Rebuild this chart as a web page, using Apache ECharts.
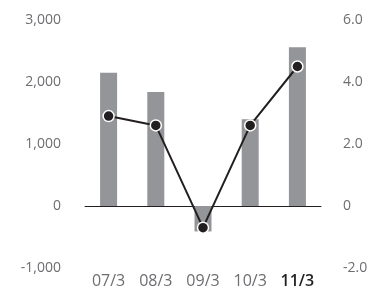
<!DOCTYPE html>
<html>
<head>
<meta charset="utf-8">
<script src="https://cdn.jsdelivr.net/npm/echarts@6/dist/echarts.min.js"></script>
<style>
  html, body { margin: 0; padding: 0; background: #fff; }
  #chart { width: 372px; height: 289px; }
</style>
</head>
<body>
<div id="chart"></div>
<script>
// data
var categories = ['07/3', '08/3', '09/3', '10/3', '11/3']
var barValues = [2150, 1840, -410, 1400, 2560]
var lineValues = [2.9, 2.6, -0.7, 2.6, 4.5]
var leftTicks = { min: -1000, max: 3000, interval: 1000 }
var rightTicks = { min: -2, max: 6, interval: 2 }

var labelColor = '#6d6e71'
var font = '"Open Sans", "Noto Sans", sans-serif'

var chart = echarts.init(document.getElementById('chart'))
chart.setOption({
  animation: false,
  grid: {
    left: 85,
    right: 51,
    top: 20,
    bottom: 19
  },
  xAxis: [
    {
      // labels at the bottom
      type: 'category',
      data: categories,
      position: 'bottom',
      axisLine: { show: false, onZero: false },
      axisTick: { show: false },
      axisLabel: {
        interval: 0,
        margin: 5,
        fontSize: 16,
        fontFamily: font,
        color: labelColor,
        formatter: function (v, i) {
          return i === categories.length - 1 ? '{b|' + v + '}' : v
        },
        rich: {
          b: { fontSize: 16, fontWeight: 600, color: '#231f20', fontFamily: font }
        }
      }
    },
    {
      // zero line
      type: 'category',
      data: categories,
      axisLine: { show: true, onZero: true, onZeroAxisIndex: 0, lineStyle: { color: '#231f20', width: 1 } },
      axisTick: { show: false },
      axisLabel: { show: false }
    }
  ],
  yAxis: [
    {
      type: 'value',
      min: leftTicks.min,
      max: leftTicks.max,
      interval: leftTicks.interval,
      axisLine: { show: false },
      axisTick: { show: false },
      splitLine: { show: false },
      axisLabel: {
        margin: 24,
        fontSize: 14,
        fontFamily: font,
        color: labelColor,
        formatter: function (v) { return v.toLocaleString('en-US') }
      }
    },
    {
      type: 'value',
      min: rightTicks.min,
      max: rightTicks.max,
      interval: rightTicks.interval,
      axisLine: { show: false },
      axisTick: { show: false },
      splitLine: { show: false },
      axisLabel: {
        margin: 22,
        fontSize: 14,
        fontFamily: font,
        color: labelColor,
        formatter: function (v) { return v === 0 ? '0' : v.toFixed(1) }
      }
    }
  ],
  series: [
    {
      type: 'bar',
      xAxisIndex: 0,
      yAxisIndex: 0,
      barWidth: 17,
      itemStyle: { color: '#939598' },
      data: barValues
    },
    {
      type: 'line',
      xAxisIndex: 0,
      yAxisIndex: 1,
      symbol: 'circle',
      symbolSize: 11,
      lineStyle: { color: '#231f20', width: 2 },
      itemStyle: { color: '#231f20', borderColor: '#fff', borderWidth: 1.5 },
      data: lineValues
    }
  ]
})
</script>
</body>
</html>
